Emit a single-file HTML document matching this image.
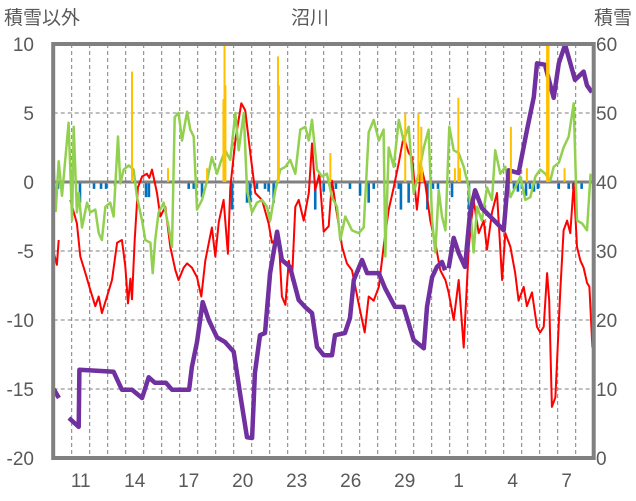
<!DOCTYPE html>
<html><head><meta charset="utf-8">
<style>
html,body{margin:0;padding:0;background:#fff;}
svg{display:block;}
text{font-family:"Liberation Sans","Noto Sans CJK JP",sans-serif;fill:#595959;}
</style></head>
<body>
<svg id="chart" width="636" height="501" viewBox="0 0 636 501" xmlns="http://www.w3.org/2000/svg">
<text x="4" y="24" font-size="19">積雪以外</text>
<text x="310" y="24" font-size="19" text-anchor="middle">沼川</text>
<text x="632" y="24" font-size="19" text-anchor="end">積雪</text>
<g id="grid"></g>
<g id="series"></g>
<g id="axes"></g>
</svg>
<script>
const leftTicks = [10, 5, 0, -5, -10, -15, -20];
const rightTicks = [60, 50, 40, 30, 20, 10, 0];
const dayLabels = ["11","14","17","20","23","26","29","1","4","7"];
const dayLabelPos = [1, 4, 7, 10, 13, 16, 19, 22, 25, 28];

const redT = [0,0.18,0.28,null,0.92,1.29,1.48,1.76,2.03,2.31,2.5,2.68,2.96,3.24,3.52,3.79,3.98,4.13,4.26,4.35,4.5,4.68,4.91,5.18,5.31,5.46,5.74,5.92,6.2,6.48,6.76,6.94,7.22,7.41,7.68,7.96,8.2,8.42,8.57,8.79,8.98,9.17,9.44,9.68,9.81,10.09,10.42,10.64,10.92,11.2,11.57,11.94,12.13,12.5,12.68,12.87,13.06,13.24,13.42,13.61,13.89,14.17,14.35,14.53,14.76,15,15.28,15.46,15.64,16.02,16.29,16.57,16.94,17.28,17.5,17.78,18.06,18.33,18.61,18.89,19.17,19.44,19.72,19.91,20.18,20.42,20.64,20.92,21.2,21.48,21.76,21.94,22.22,22.5,22.78,23.06,23.33,23.61,23.89,24.07,24.35,24.63,24.91,25.09,25.37,25.64,25.83,26.11,26.29,26.57,26.85,27.03,27.22,27.41,27.53,27.68,27.87,28.14,28.33,28.52,28.7,28.89,29.07,29.26,29.44,29.63,29.76,29.93];
const redV = [-5.1,-6,-4.2,null,-1.3,-3,-5.4,-6.6,-7.8,-9,-8.3,-9.5,-8.3,-7.1,-4.4,-4.2,-6.1,-8.8,-7,-8.5,-4.2,-0.4,0.4,0.6,0.3,0.9,-0.8,-2.5,-1.8,-4.7,-6.4,-7.1,-6.2,-5.9,-6.2,-6.9,-8.3,-5.7,-4.7,-3.3,-5.4,-2.9,-1.3,-5.2,-0.4,3,5.7,5.2,2.1,-0.8,-1.3,-3,-4.4,-4,-8.3,-8.9,-5.7,-7.1,-1.8,-1.3,-2.8,-0.8,2.8,-0.6,0.6,-3.6,-3.2,0.1,-1.5,-4.7,-5.9,-6.4,-8.8,-10.9,-8.3,-8.6,-7.6,-4.7,-2,-0.4,1.4,3.3,2.1,1.8,-2,1.1,-0.1,-2.8,-4.4,-6.4,-7.1,-8,-10,-7.1,-12,-4.7,-1.3,-3.7,-2.8,-4.9,-2.2,-0.8,-7.1,-3.7,-4.7,-6.6,-8.6,-7.6,-9,-8,-10.5,-10.9,-10.5,-6.6,-8.6,-16.3,-15.6,-8,-3.5,-2.8,-3.7,-0.1,-4.7,-5.7,-6.2,-7.3,-7.6,-12];

const greenT = [0,0.11,0.28,0.46,0.83,1.02,1.11,1.29,1.39,1.57,1.85,2.03,2.31,2.5,2.68,2.87,3.14,3.33,3.57,3.7,3.89,4.17,4.44,4.63,4.91,5.09,5.37,5.5,5.64,5.83,6.11,6.39,6.57,6.72,6.94,7.13,7.41,7.59,7.78,7.96,8.24,8.52,8.79,9.07,9.26,9.53,9.81,10.09,10.28,10.56,10.74,11.02,11.29,11.57,11.85,12.03,12.31,12.59,12.87,13.14,13.42,13.7,13.98,14.17,14.35,14.63,14.91,15.18,15.46,15.74,15.92,16.2,16.57,16.94,17.22,17.5,17.78,18.06,18.33,18.42,18.61,18.89,19.17,19.44,19.72,20,20.28,20.56,20.83,21.02,21.2,21.39,21.57,21.76,21.98,22.22,22.5,22.78,23.06,23.33,23.52,23.79,24.07,24.35,24.53,24.81,25.09,25.37,25.64,25.92,26.2,26.48,26.76,27.03,27.31,27.59,27.78,28.06,28.33,28.61,28.89,29.07,29.35,29.63,29.83];
const greenV = [1.1,-2.1,1.5,-1,4.3,-2.8,4,-2.2,-0.8,-3.3,-1.5,-2.2,-2,-3.7,-4.2,-1.8,-1.5,-2.5,3.3,-0.1,0.9,1.2,0.9,-1.1,-2.8,-4.2,-4.4,-6.6,-4.2,-2.2,-1.5,-3.3,-4.7,4.7,5,3,5.1,3.8,3.3,-2,-1.3,0.1,1.8,0.6,1.4,2.3,1.6,5,2.3,5,-0.6,-2.2,-1.5,-1.3,-1.8,-2.8,-0.6,0.9,1.1,1.6,0.6,3.8,4,3,4.5,0.9,0.4,0.6,-1.1,-1.8,-4.2,-2.5,-3.5,-3.7,-3.3,3.6,4.5,3,3.8,-5.4,2.5,1.1,4.5,3,4,-0.8,0.6,2.5,3.8,-2.8,-5.1,-0.6,-2.5,-3.5,4,2.3,2.1,1.1,-0.4,-5.1,-1.8,-2.8,-0.4,-1.3,2.3,0.6,1.1,-1.1,-0.4,0.4,-1.3,-1.1,0.4,0.9,0.6,0.1,1.1,1.4,2.5,3.3,5.7,-2.8,-3,-3.5,0.6];

const snowT = [0,0.29,null,0.85,1.39,1.43,3.33,3.79,4.35,4.91,5.28,5.63,6.24,6.57,7.52,7.68,7.96,8.28,8.61,9.07,9.52,10.0,10.35,10.74,11.02,11.18,11.46,11.74,12.02,12.41,12.68,13.13,13.61,13.96,14.35,14.63,15.0,15.46,15.63,16.18,16.46,16.67,17.13,17.41,18.06,18.41,18.96,19.44,20.0,20.56,20.74,21.02,21.29,21.57,21.74,null,21.94,22.22,22.5,22.85,23.13,23.41,23.79,24.44,25.0,25.28,25.83,26.29,26.67,26.85,27.29,27.78,28.06,28.41,28.96,29.44,29.63,29.9];
const snowV = [10,8.7,null,5.8,4.5,12.8,12.5,9.9,9.9,8.7,11.7,10.9,10.9,9.9,9.9,13.2,16.8,22.6,20,17.5,16.8,15.4,9.4,3,2.9,12.3,17.8,18.1,26.8,32.8,28.7,27.7,22.9,21.9,21,16.1,14.9,14.9,17.8,18.1,20.3,25.8,28.7,26.8,26.8,24.6,21.9,21.9,17.1,15.9,21.9,26.2,27.7,28.4,27.2,null,27.5,31.9,29.7,27.7,35.5,38.8,36.2,34.5,33,41.7,41.3,47.5,52.3,57.2,57,52.2,57.2,59.9,54.8,56,54,53];

const snowfallT = [4.35,6.35,8.52,9.43,9.49,9.54,12.46,12.51,15.37,19.53,20.26,20.42,20.47,22.29,22.48,22.57,25.4,26.29,27.41,27.49,28.38];
const snowfallV = [8,1,1,6,10,7,9.1,7,2.1,5,5,4,1,1,6.1,1,4,1,10,10,1];

const meltT = [0.24,1.46,2.24,2.63,2.91,3.41,5.13,5.29,7.5,7.78,8.24,9.91,10.74,10.91,11.29,11.74,11.94,12.22,14.53,15,15.68,16.46,17.02,17.5,17.78,19.17,19.29,19.72,20.76,21.07,21.35,22.13,23.07,25.57,25.79,26.01,26.24,26.46,26.68,26.9,28.06,28.61,28.86,29.33];
const meltV = [-0.5,-1.5,-0.5,-0.5,-0.5,-0.3,-1.1,-1.1,-0.5,-0.5,-1.1,-2,-1.5,-1.5,-0.5,-0.5,-0.7,-1.5,-2,-0.7,-0.5,-0.5,-1,-1.5,-0.5,-0.5,-2,-1.5,-2,-0.5,-0.5,-1.1,-2,-0.5,-0.7,-0.5,-1,-0.5,-0.7,-0.5,-0.5,-0.5,-0.5,-0.5];

const NS = "http://www.w3.org/2000/svg";
const X0 = 53.7, DAY = 18, NDAYS = 30;
function xS(t){ return X0 + DAY * t; }
function yL(v){ return 182 - 13.8 * v; }
function yR(s){ return 458 - 6.9 * s; }
function mk(tag, attrs, parent){
  const e = document.createElementNS(NS, tag);
  for (const k in attrs) e.setAttribute(k, attrs[k]);
  parent.appendChild(e);
  return e;
}
const grid = document.getElementById('grid');
const series = document.getElementById('series');
const axes = document.getElementById('axes');

for (let d = 1; d < NDAYS; d++) {
  const l = mk('line', {x1: xS(d), x2: xS(d), y1: yL(10), y2: yL(-20), stroke: '#7f7f7f', 'stroke-width': 1, 'stroke-dasharray': '4,3'}, grid);
  
  
}
leftTicks.forEach(v => {
  if (v === 10 || v === 0 || v === -20) return;
  const l = mk('line', {x1: X0, x2: xS(NDAYS), y1: yL(v), y2: yL(v), stroke: '#7f7f7f', 'stroke-width': 1, 'stroke-dasharray': '4,3'}, grid);
  
  
});

function pathFrom(ts, vs, yf){
  let d = '', pen = false;
  for (let i = 0; i < ts.length; i++) {
    if (ts[i] === null || vs[i] === null) { pen = false; continue; }
    d += (pen ? 'L' : 'M') + xS(ts[i]).toFixed(1) + ',' + yf(vs[i]).toFixed(1);
    pen = true;
  }
  return d;
}

// melt bars (blue)
meltT.forEach((t, i) => {
  const r = mk('rect', {x: xS(t) - 1.3, y: yL(0), width: 2.6, height: yL(meltV[i]) - yL(0), fill: '#0070C0'}, series);
  
  
});

const zero = mk('line', {x1: X0, x2: xS(NDAYS), y1: yL(0), y2: yL(0), stroke: '#808080', 'stroke-width': 3}, series);



const red = mk('path', {d: pathFrom(redT, redV, yL), fill: 'none', stroke: '#FF0000', 'stroke-width': 2, 'stroke-linejoin': 'round'}, series);


const green = mk('path', {d: pathFrom(greenT, greenV, yL), fill: 'none', stroke: '#92D050', 'stroke-width': 2.5, 'stroke-linejoin': 'round'}, series);


const purple = mk('path', {d: pathFrom(snowT, snowV, yR), fill: 'none', stroke: '#7030A0', 'stroke-width': 4.5, 'stroke-linejoin': 'round'}, series);



snowfallT.forEach((t, i) => {
  const r = mk('rect', {x: xS(t) - 1, y: yL(snowfallV[i]), width: 2, height: yL(0) - yL(snowfallV[i]), fill: '#FFC000'}, series);
  
  
});

const frame = mk('rect', {x: X0 - 0.5, y: yL(10), width: xS(NDAYS) - X0 + 0.5, height: yL(-20) - yL(10), fill: 'none', stroke: '#808080', 'stroke-width': 4}, axes);



leftTicks.forEach(v => {
  const t = mk('text', {x: 34, y: yL(v) + 7, 'font-size': 19, 'text-anchor': 'end'}, axes);
  t.textContent = String(v);
  
  
});
rightTicks.forEach(v => {
  const t = mk('text', {x: 596, y: yR(v) + 7, 'font-size': 19}, axes);
  t.textContent = String(v);
  
  
});
dayLabels.forEach((s, i) => {
  const t = mk('text', {x: xS(dayLabelPos[i] + 0.5), y: 487, 'font-size': 19, 'text-anchor': 'middle'}, axes);
  t.textContent = s;
  
  
});
</script>
</body></html>
